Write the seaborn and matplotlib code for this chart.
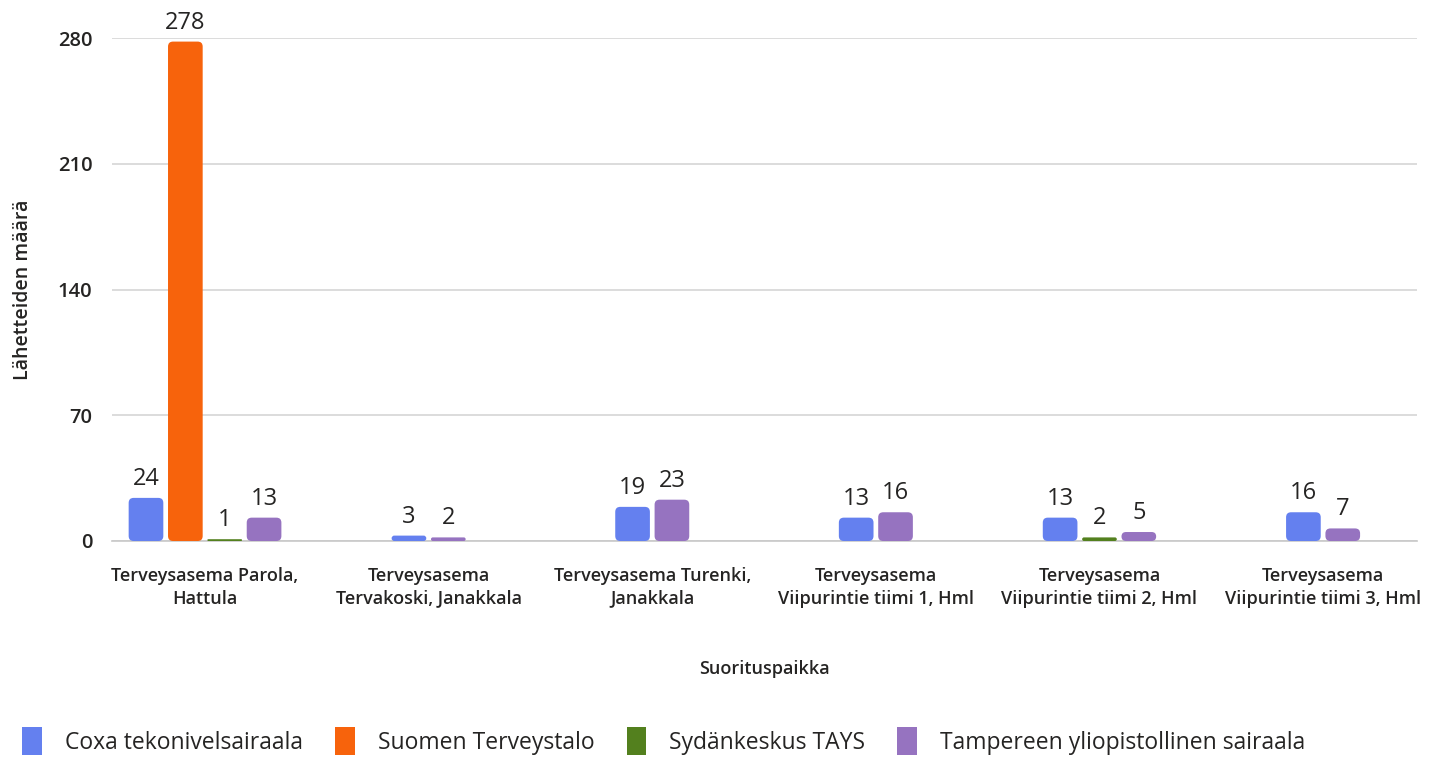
import matplotlib
matplotlib.use("Agg")
import matplotlib.pyplot as plt
from matplotlib.patches import Patch, FancyBboxPatch
import seaborn as sns
import pandas as pd

# data
places = [
    "Terveysasema Parola,\nHattula",
    "Terveysasema\nTervakoski, Janakkala",
    "Terveysasema Turenki,\nJanakkala",
    "Terveysasema\nViipurintie tiimi 1, Hml",
    "Terveysasema\nViipurintie tiimi 2, Hml",
    "Terveysasema\nViipurintie tiimi 3, Hml",
]
sources = ["Coxa tekonivelsairaala", "Suomen Terveystalo", "Sydänkeskus TAYS",
           "Tampereen yliopistollinen sairaala"]
coxa = [24, 3, 19, 13, 13, 16]
terveystalo = [278, 0, 0, 0, 0, 0]
tays_sydan = [1, 0, 0, 0, 2, 0]
tays = [13, 2, 23, 16, 5, 7]
colors = ["#6480EF", "#F7630C", "#53801E", "#9673C0"]

sns.set_theme(style="white")
plt.rcParams["font.family"] = ["Open Sans", "DejaVu Sans"]

# long table, only non-zero bars, packed and centred in each group
pitch = 0.176
rows = []
for g in range(len(places)):
    vals = [coxa[g], terveystalo[g], tays_sydan[g], tays[g]]
    present = [(s, v) for s, v in zip(sources, vals) if v > 0]
    n = len(present)
    for k, (s, v) in enumerate(present):
        rows.append({"pos": g + (k - (n - 1) / 2) * pitch, "source": s, "value": v})
df = pd.DataFrame(rows)

fig = plt.figure(figsize=(14.3, 7.57), dpi=100)
ax = fig.add_axes([112 / 1430, 1 - 541 / 757, 1305 / 1430, 503 / 757])

pal = dict(zip(sources, colors))
for s in sources:
    sub = df[df["source"] == s]
    ax.bar(sub["pos"], sub["value"], width=0.155, color=pal[s], label=s)

ax.set_xlim(-0.416, 5.42)
ax.set_ylim(0, 280)

# rounded bar corners
px_x = 1305 / (5.42 + 0.416)
px_y = 503 / 280
aspect = px_x / px_y
for p in list(ax.patches):
    x, y, w, h = p.get_x(), p.get_y(), p.get_width(), p.get_height()
    r = min(5 / px_x, w / 2, h / 2 / aspect)
    fb = FancyBboxPatch((x, y), w, h, boxstyle=f"round,pad=0,rounding_size={r}",
                        mutation_aspect=aspect, facecolor=p.get_facecolor(),
                        edgecolor="none", zorder=3)
    p.remove()
    ax.add_patch(fb)

for _, r in df.iterrows():
    ax.annotate(f"{r['value']:.0f}", (r["pos"], r["value"]), xytext=(0, 5),
                textcoords="offset points", ha="center", va="bottom",
                fontsize=17, color="#252423", zorder=4)

ax.set_yticks([0, 70, 140, 210, 280])
ax.set_xticks(range(len(places)))
ax.set_xticklabels(places, fontsize=13, color="#252423", fontweight="semibold",
                   linespacing=1.3)
ax.tick_params(axis="y", length=0, pad=14, labelsize=14.5, labelcolor="#252423")
ax.tick_params(axis="x", length=9, width=1, color="#d0d0d0", pad=10)
for t in ax.get_yticklabels():
    t.set_fontweight("semibold")
ax.grid(axis="y", color="#d6d6d6", linewidth=1.2)
ax.set_axisbelow(True)
for side in ["top", "right", "left"]:
    ax.spines[side].set_visible(False)
ax.spines["bottom"].set_color("#c8c8c8")
ax.spines["bottom"].set_linewidth(1.2)

ax.set_ylabel("Lähetteiden määrä", fontsize=14, fontweight="semibold", color="#252423",
              labelpad=18)
ax.set_xlabel("Suorituspaikka", fontsize=13, fontweight="semibold", color="#252423",
              labelpad=38)

handles = [Patch(facecolor=c, edgecolor="none") for c in colors]
fig.legend(handles, sources, loc="lower left", bbox_to_anchor=(0.001, -0.024), ncol=4,
           frameon=False, fontsize=16.5, handlelength=0.87, handleheight=1.45,
           handletextpad=1.0, columnspacing=1.4, labelcolor="#252423")

fig.savefig("out.png", dpi=100)
